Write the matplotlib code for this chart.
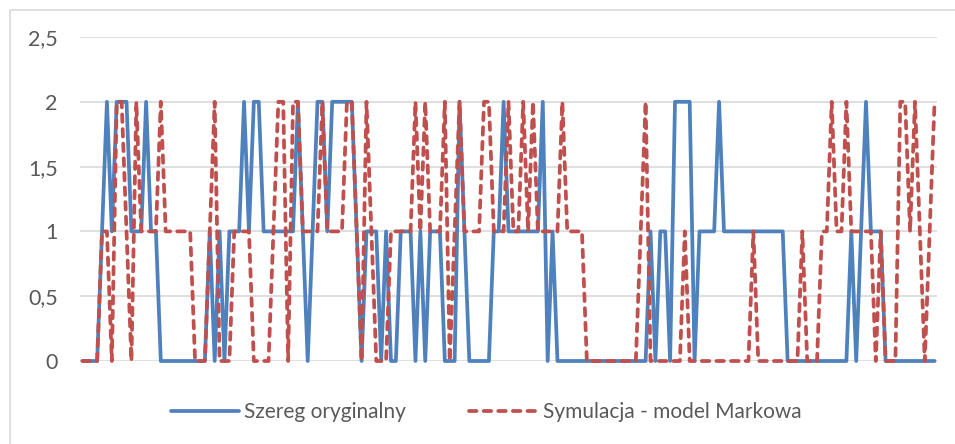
import matplotlib.pyplot as plt
from matplotlib.lines import Line2D

# wartości szeregu oryginalnego (stany 0/1/2)
szereg = [
    0, 0, 0, 0, 1, 2, 1, 2, 2, 2,
    1, 1, 1, 2, 1, 1, 0, 0, 0, 0,
    0, 0, 0, 0, 0, 0, 1, 0, 1, 0,
    1, 1, 1, 2, 1, 2, 2, 1, 1, 1,
    1, 1, 1, 1, 2, 1, 0, 1, 2, 2,
    1, 2, 2, 2, 2, 2, 1, 0, 1, 1,
    1, 0, 1, 0, 0, 1, 1, 1, 0, 1,
    0, 1, 1, 1, 0, 0, 0, 2, 1, 0,
    0, 0, 0, 0, 1, 1, 2, 1, 1, 1,
    1, 1, 1, 1, 2, 0, 1, 0, 0, 0,
    0, 0, 0, 0, 0, 0, 0, 0, 0, 0,
    0, 0, 0, 0, 0, 0, 1, 0, 1, 1,
    0, 2, 2, 2, 2, 0, 1, 1, 1, 1,
    2, 1, 1, 1, 1, 1, 1, 1, 1, 1,
    1, 1, 1, 1, 0, 0, 0, 0, 0, 0,
    0, 0, 0, 0, 0, 0, 0, 1, 0, 1,
    2, 1, 1, 1, 0, 0, 0, 0, 0, 0,
    0, 0, 0, 0, 0,
]

# symulacja łańcuchem Markowa
symulacja = [
    0, 0, 0, 0, 1, 1, 0, 2, 2, 1,
    0, 2, 1, 1, 1, 1, 2, 1, 1, 1,
    1, 1, 1, 0, 0, 0, 1, 2, 0, 0,
    0, 1, 1, 1, 1, 0, 0, 0, 0, 1,
    2, 2, 0, 2, 2, 1, 1, 1, 1, 2,
    1, 1, 1, 1, 2, 2, 1, 0, 2, 1,
    0, 0, 0, 1, 1, 1, 1, 1, 2, 1,
    2, 1, 1, 1, 2, 0, 1, 2, 1, 1,
    1, 1, 2, 2, 1, 1, 1, 2, 1, 1,
    2, 1, 2, 1, 1, 1, 1, 1, 2, 1,
    1, 1, 1, 0, 0, 0, 0, 0, 0, 0,
    0, 0, 0, 0, 1, 2, 0, 0, 0, 0,
    0, 0, 0, 1, 0, 0, 0, 0, 0, 0,
    0, 0, 0, 0, 0, 0, 0, 1, 0, 0,
    0, 0, 0, 0, 0, 0, 0, 1, 0, 0,
    0, 1, 1, 2, 1, 1, 2, 1, 1, 1,
    1, 1, 0, 1, 0, 0, 0, 2, 2, 1,
    2, 1, 0, 1, 2,
]

y_ticks = [0, 0.5, 1, 1.5, 2, 2.5]
y_labels = ["0", "0,5", "1", "1,5", "2", "2,5"]
nazwy = ["Szereg oryginalny", "Symulacja - model Markowa"]

plt.rcParams["font.family"] = ["Lato", "DejaVu Sans"]

W, H = 955, 444
fig = plt.figure(figsize=(W / 100, H / 100), dpi=100)
fig.patch.set_facecolor("white")

# ramka obszaru wykresu (lewa i górna krawędź)
fig.add_artist(Line2D([10 / W, 10 / W, 1.0], [0.0, 1 - 10 / H, 1 - 10 / H],
                      transform=fig.transFigure, color="#d9d9d9", lw=1.2))

ax = fig.add_axes([80 / W, 1 - 361 / H, 857 / W, 324 / H])
x = list(range(len(szereg)))

ax.plot(x, szereg, color="#4f81bd", lw=2.7, solid_joinstyle="round",
        solid_capstyle="round", clip_on=False, label=nazwy[0], zorder=3)
ax.plot(x, symulacja, color="#c0504d", lw=2.7, dashes=(2.0, 1.9),
        dash_capstyle="round", dash_joinstyle="round", clip_on=False,
        label=nazwy[1], zorder=4)

ax.set_xlim(-0.5, len(szereg) - 0.5)
ax.set_ylim(0, 2.5)
ax.set_yticks(y_ticks, y_labels)
ax.set_xticks([])
ax.tick_params(axis="y", length=0, pad=16, labelsize=15.5, labelcolor="#595959")
for s in ax.spines.values():
    s.set_visible(False)
ax.grid(axis="y", color="#d9d9d9", lw=1.2)
ax.set_axisbelow(True)

fig.legend(loc="center", bbox_to_anchor=(486 / W, 1 - 412 / H), ncol=2,
           frameon=False, fontsize=15, handlelength=3.3, handletextpad=0.25,
           columnspacing=3.0, labelcolor="#595959")

fig.savefig("out.png", dpi=100)
